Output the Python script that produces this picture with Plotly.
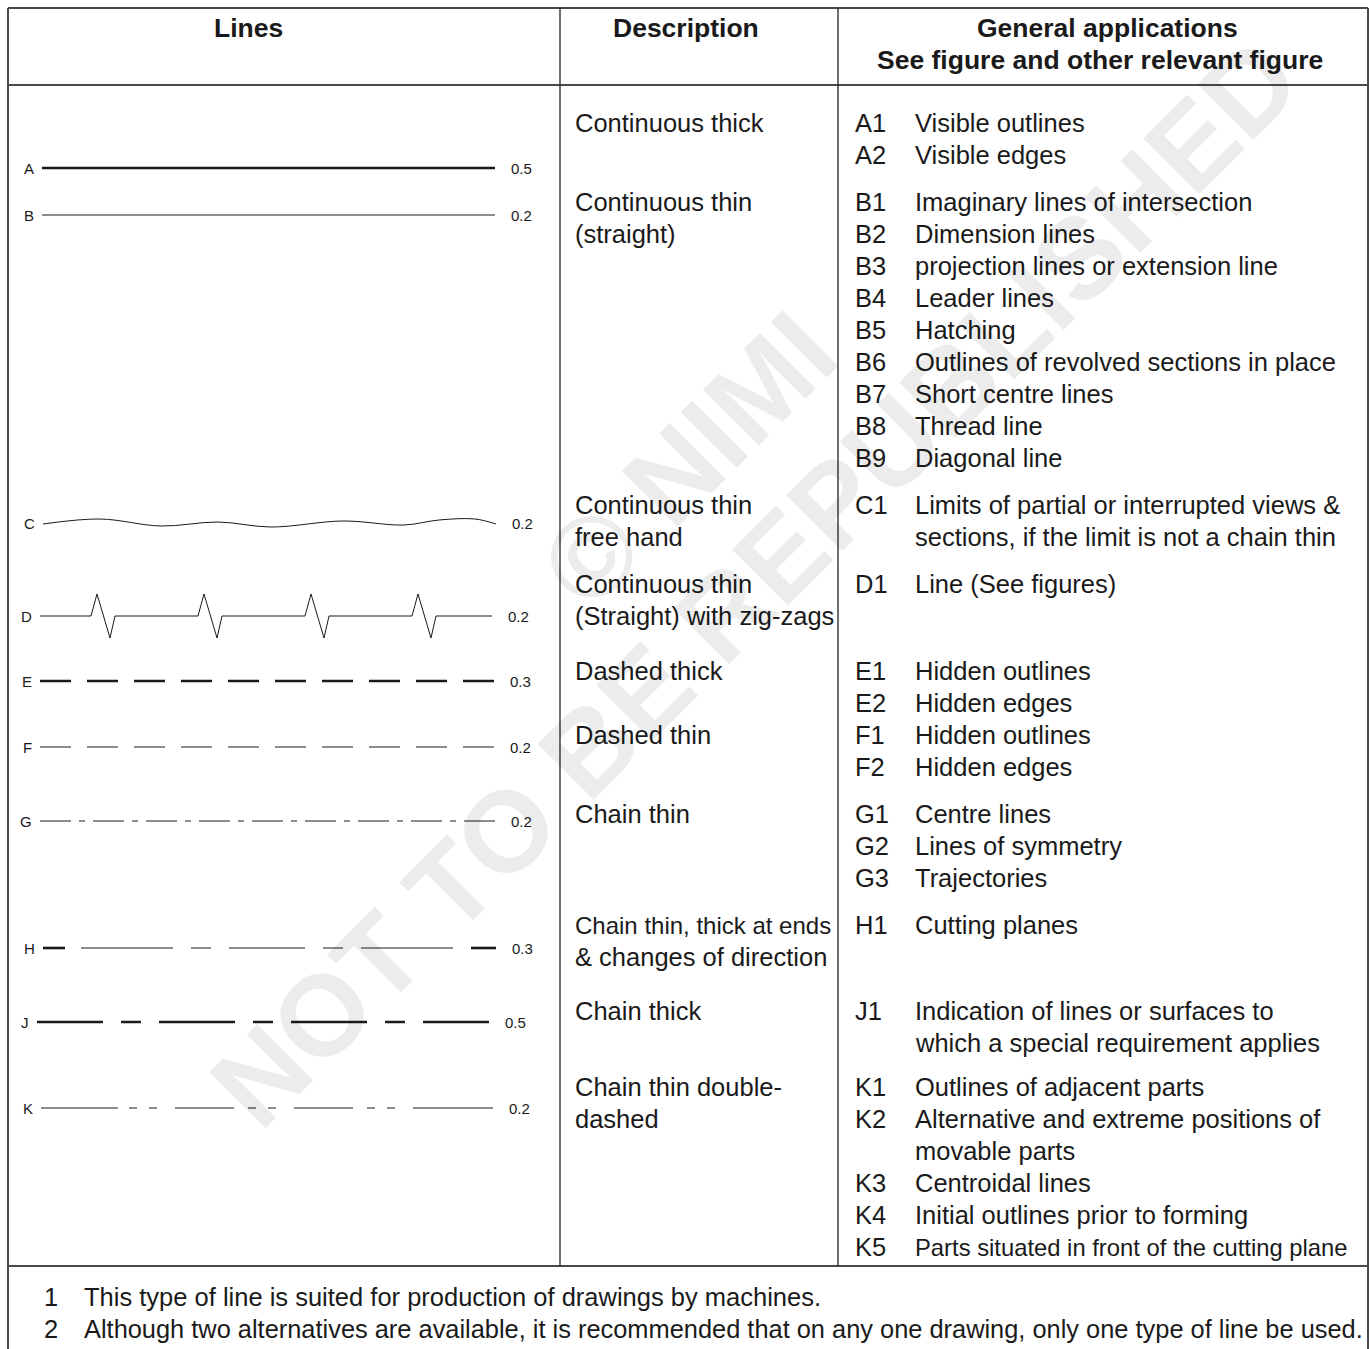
import plotly.graph_objects as go

# ====================================
# data read off the reference table

line_codes = ['A', 'B', 'C', 'D', 'E', 'F', 'G', 'H', 'J', 'K']
line_thickness = ['0.5', '0.2', '0.2', '0.2', '0.3', '0.2', '0.2', '0.3', '0.5', '0.2']

descriptions = [
    ['Continuous thick'],
    ['Continuous thin', '(straight)'],
    ['Continuous thin', 'free hand'],
    ['Continuous thin', '(Straight) with zig-zags'],
    ['Dashed thick'],
    ['Dashed thin'],
    ['Chain thin'],
    ['Chain thin, thick at ends', '& changes of direction'],
    ['Chain thick'],
    ['Chain thin double-', 'dashed'],
]

app_codes = ['A1', 'A2', 'B1', 'B2', 'B3', 'B4', 'B5', 'B6', 'B7', 'B8', 'B9',
             'C1', 'D1', 'E1', 'E2', 'F1', 'F2', 'G1', 'G2', 'G3', 'H1', 'J1',
             'K1', 'K2', 'K3', 'K4', 'K5']
app_texts = [
    ['Visible outlines'],
    ['Visible edges'],
    ['Imaginary lines of intersection'],
    ['Dimension lines'],
    ['projection lines or extension line'],
    ['Leader lines'],
    ['Hatching'],
    ['Outlines of revolved sections in place'],
    ['Short centre lines'],
    ['Thread line'],
    ['Diagonal line'],
    ['Limits of partial or interrupted views &', 'sections, if the limit is not a chain thin'],
    ['Line (See figures)'],
    ['Hidden outlines'],
    ['Hidden edges'],
    ['Hidden outlines'],
    ['Hidden edges'],
    ['Centre lines'],
    ['Lines of symmetry'],
    ['Trajectories'],
    ['Cutting planes'],
    ['Indication of lines or surfaces to', 'which a special requirement applies'],
    ['Outlines of adjacent parts'],
    ['Alternative and extreme positions of', 'movable parts'],
    ['Centroidal lines'],
    ['Initial outlines prior to forming'],
    ['Parts situated in front of the cutting plane'],
]

notes = [
    'This type of line is suited for production of drawings by machines.',
    'Although two alternatives are available, it is recommended that on any one drawing, only one type of line be used.',
]

headers = ['Lines', 'Description', 'General applications', 'See figure and other relevant figure']

# free hand sample (C): points along the line and their wobble
freehand_x = [43, 100, 161, 218, 271, 343, 404, 439, 475, 496]
freehand_dy = [1, -4, 3, -1, 4, -2, 2, -3, -4, 1]
# zig-zag sample (D): where each zig starts
zigzag_x = [91, 198, 305, 412]

# ====================================
# layout (page pixels)

FONT = 'Liberation Sans, Arial, sans-serif'
INK = '#1a1a1a'
BODY = 25.5
PAD = 3  # annotation box padding

# lines that are set tighter in the reference
squeezed = {
    'Chain thin, thick at ends': 24,
    'Parts situated in front of the cutting plane': 23.8,
    notes[1]: 25.4,
}

sample_y = [168, 215, 523, 616, 681, 747, 821, 948, 1022, 1108]
sample_span = {
    'A': (42, 495), 'B': (42, 495), 'C': (43, 496), 'D': (40, 492), 'E': (40, 494),
    'F': (40, 494), 'G': (40, 495), 'H': (43, 496), 'J': (37, 489), 'K': (41, 493),
}
sample_style = {
    'A': dict(width=2.4),
    'B': dict(width=1),
    'E': dict(width=2.4, dash='31px,16px'),
    'F': dict(width=1, dash='31px,16px'),
    'G': dict(width=1, dash='31px,8px,6px,8px'),
    'J': dict(width=2.6, dash='66px,18px,20px,18px,76px,18px,20px,18px,76px,18px,20px,18px,80px'),
    'K': dict(width=1, dash='77px,11px,8px,12px,8px,18px,59px,14px,8px,12px,8px,18px,59px,14px,8px,12px,8px,18px,80px'),
}
H_thin = (81, 453)
H_dash = '92px,18px,20px,18px,76px,18px,20px,18px,92px'
H_end = 22

desc_y = [123, 202, 505, 584, 671, 735, 814, 925, 1011, 1087]
app_y = [123, 155, 202, 234, 266, 298, 330, 362, 394, 426, 458, 505, 584, 671, 703,
         735, 767, 814, 846, 878, 925, 1011, 1087, 1119, 1183, 1215, 1247]
LINE_STEP = 32

fig = go.Figure()

for code, y in zip(line_codes, sample_y):
    x0, x1 = sample_span[code]
    if code == 'C':
        fig.add_trace(go.Scatter(
            x=freehand_x, y=[y + d for d in freehand_dy], mode='lines',
            line=dict(color=INK, width=1, shape='spline', smoothing=1.0)))
    elif code == 'D':
        xs, ys = [x0], [y]
        for zx in zigzag_x:
            xs += [zx, zx + 6, zx + 19, zx + 24]
            ys += [y, y - 22, y + 22, y]
        xs.append(x1)
        ys.append(y)
        fig.add_trace(go.Scatter(x=xs, y=ys, mode='lines', line=dict(color=INK, width=1)))
    elif code == 'H':
        fig.add_trace(go.Scatter(x=[x0, x0 + H_end], y=[y, y], mode='lines',
                                 line=dict(color=INK, width=2.6)))
        fig.add_trace(go.Scatter(x=list(H_thin), y=[y, y], mode='lines',
                                 line=dict(color=INK, width=1, dash=H_dash)))
        fig.add_trace(go.Scatter(x=[x1 - H_end - 3, x1], y=[y, y], mode='lines',
                                 line=dict(color=INK, width=2.6)))
    else:
        fig.add_trace(go.Scatter(x=[x0, x1], y=[y, y], mode='lines',
                                 line=dict(color=INK, **sample_style[code])))

annotations = []


def txt(x, y, s, size=None, anchor='left', bold=False):
    if size is None:
        size = squeezed.get(s, BODY)
    if anchor == 'left':
        x -= PAD
    elif anchor == 'right':
        x += PAD
    annotations.append(dict(
        x=x, y=y, xref='x', yref='y', text=s, showarrow=False,
        xanchor=anchor, yanchor='middle', align='center',
        font=dict(family=FONT, size=size, color=INK, weight='bold' if bold else 'normal')))


# line letters and thickness
for code, th, y in zip(line_codes, line_thickness, sample_y):
    x0, x1 = sample_span[code]
    txt(x0 - 9, y, code, size=15, anchor='right')
    txt(x1 + 17, y, th, size=15)

# descriptions
for lines, y in zip(descriptions, desc_y):
    for i, s in enumerate(lines):
        txt(576, y + i * LINE_STEP, s)

# applications
for code, lines, y in zip(app_codes, app_texts, app_y):
    txt(856, y, code)
    for i, s in enumerate(lines):
        txt(916, y + i * LINE_STEP, s)

# headers
txt(248, 28, headers[0], size=26.5, anchor='center', bold=True)
txt(686, 28, headers[1], size=26.5, anchor='center', bold=True)
txt(1107, 28, headers[2], size=26.5, anchor='center', bold=True)
txt(1100, 60, headers[3], size=26.5, anchor='center', bold=True)

# notes
for i, s in enumerate(notes):
    txt(57, 1297 + i * LINE_STEP, str(i + 1), anchor='right')
    txt(85, 1297 + i * LINE_STEP, s)

# watermark
for s, (wx, wy) in [('© NIMI', (688, 460)), ('NOT TO BE REPUBLISHED', (755, 582))]:
    annotations.append(dict(
        x=wx, y=wy, xref='x', yref='y', text=s, showarrow=False, textangle=-45,
        xanchor='center', yanchor='middle',
        font=dict(family=FONT, size=115, color='rgba(0,0,0,0.075)', weight='bold')))

# table rules
shapes = []
frame = dict(color='#4a4a4a', width=2)
shapes.append(dict(type='line', x0=8, x1=1368, y0=8, y1=8, line=frame))
shapes.append(dict(type='line', x0=8, x1=8, y0=8, y1=1360, line=frame))
shapes.append(dict(type='line', x0=1368, x1=1368, y0=8, y1=1360, line=frame))
shapes.append(dict(type='line', x0=8, x1=1368, y0=85, y1=85, line=frame))
shapes.append(dict(type='line', x0=8, x1=1368, y0=1266, y1=1266, line=frame))
for cx in [560, 838]:
    shapes.append(dict(type='line', x0=cx, x1=cx, y0=8, y1=1266, line=dict(color='#222222', width=1.3)))
for s in shapes:
    s.update(xref='x', yref='y', layer='below')

fig.update_layout(
    width=1369, height=1349,
    autosize=False,
    showlegend=False,
    paper_bgcolor='white',
    plot_bgcolor='white',
    margin=dict(t=0, b=0, r=0, l=0),
    xaxis=dict(range=[0, 1369], visible=False, fixedrange=True),
    yaxis=dict(range=[1349, 0], visible=False, fixedrange=True),
    annotations=annotations,
    shapes=shapes,
)

# the page should hold the figure exactly, without the default body margin
fig.write_html(
    "out.html",
    config={'displayModeBar': False},
    post_script="document.body.style.margin='0';document.body.style.overflow='hidden';",
)
